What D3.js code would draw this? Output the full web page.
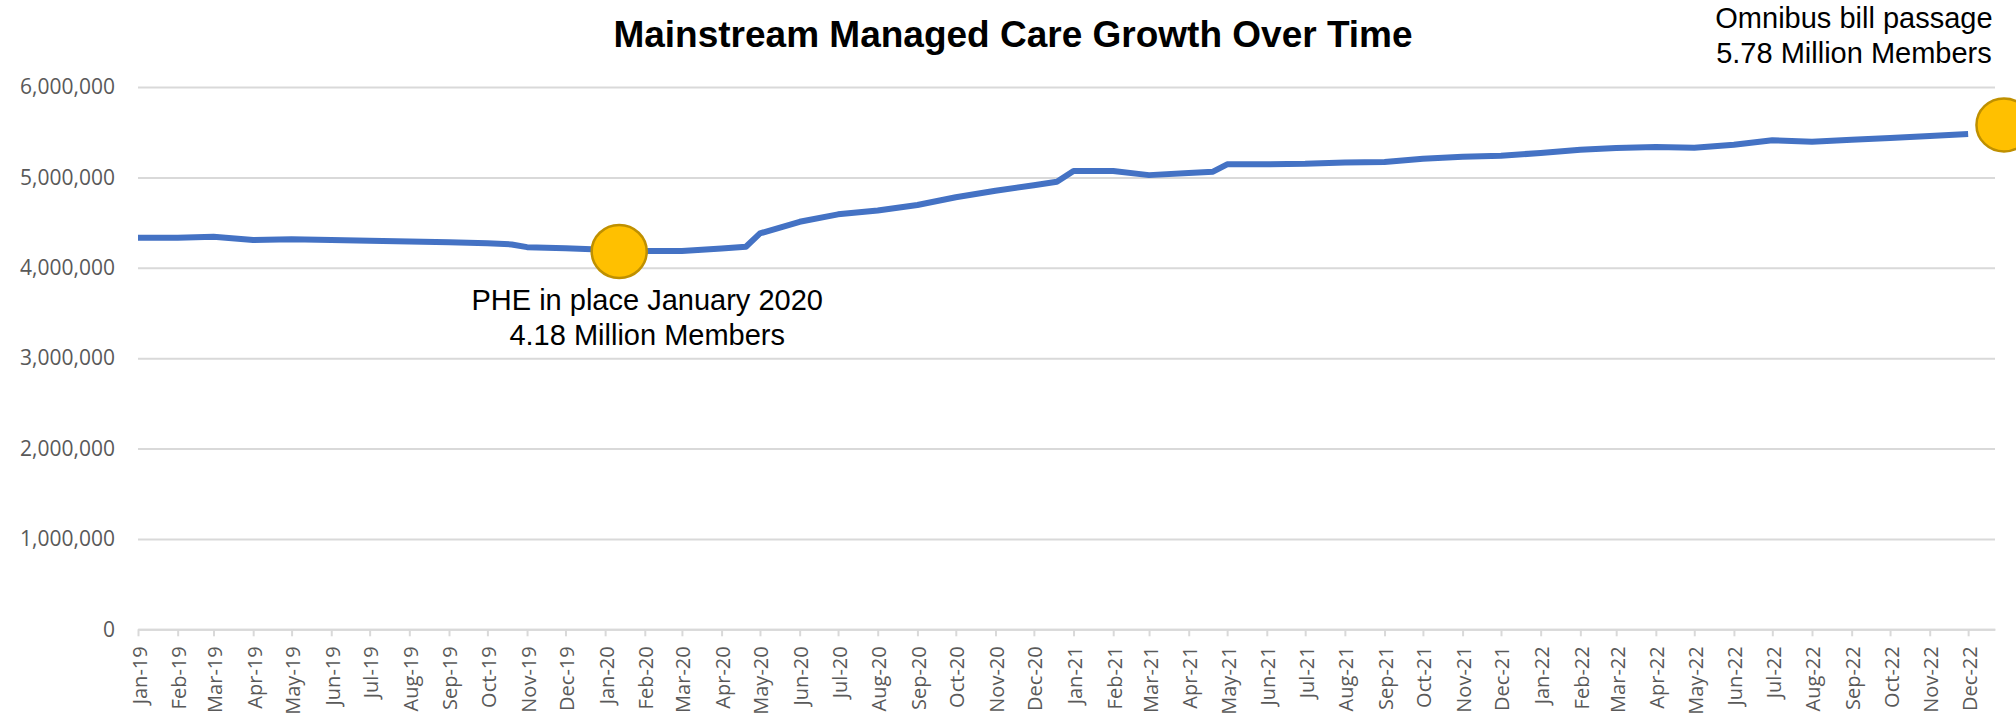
<html>
<head>
  <meta charset="utf-8">
  <title>Mainstream Managed Care Growth Over Time</title>
  <style>
    body {
      margin: 0;
      padding: 0;
      background: #ffffff;
    }
    .title {
      font-family: "Liberation Sans", Arial, sans-serif;
      font-weight: bold;
      font-size: 37px;
      fill: #000000;
    }
    .note {
      font-family: "Liberation Sans", Arial, sans-serif;
      font-size: 29px;
      fill: #000000;
    }
    .axis text {
      font-family: "Open Sans", sans-serif;
      fill: #595959;
    }
    .grid line, .xaxis line, .xaxis path {
      stroke: #d9d9d9;
      stroke-width: 2px;
    }
  </style>
</head>
<body>
  <div id="chart"></div>

  <script src="https://cdn.jsdelivr.net/npm/d3@7"></script>
  <script>
    // monthly enrollment (a few months have an extra mid-month reading)
    var dates = [
      "2019-01-01", "2019-02-01", "2019-03-01", "2019-04-01", "2019-05-01", "2019-06-01",
      "2019-07-01", "2019-08-01", "2019-09-01", "2019-10-01", "2019-10-20", "2019-11-01",
      "2019-12-01", "2020-01-01", "2020-02-01", "2020-03-01", "2020-04-01", "2020-04-20",
      "2020-05-01", "2020-06-01", "2020-07-01", "2020-08-01", "2020-09-01", "2020-10-01",
      "2020-11-01", "2020-12-01", "2020-12-19", "2021-01-01", "2021-02-01", "2021-03-01",
      "2021-04-01", "2021-04-20", "2021-05-01", "2021-06-01", "2021-07-01", "2021-08-01",
      "2021-09-01", "2021-10-01", "2021-11-01", "2021-12-01", "2022-01-01", "2022-02-01",
      "2022-03-01", "2022-04-01", "2022-05-01", "2022-06-01", "2022-07-01", "2022-08-01",
      "2022-09-01", "2022-10-01", "2022-11-01", "2022-12-01"
    ];
    var members = [
      4332000, 4332000, 4343000, 4306000, 4315000, 4308000,
      4298000, 4290000, 4282000, 4272000, 4258000, 4228000,
      4216000, 4200000, 4185000, 4185000, 4212000, 4232000,
      4380000, 4509000, 4591000, 4633000, 4694000, 4780000,
      4853000, 4914000, 4951000, 5070000, 5070000, 5025000,
      5048000, 5063000, 5144000, 5144000, 5150000, 5166000,
      5170000, 5205000, 5228000, 5240000, 5270000, 5305000,
      5326000, 5336000, 5327000, 5360000, 5411000, 5395000,
      5416000, 5436000, 5458000, 5480000
    ];
    var yTicks = [0, 1000000, 2000000, 3000000, 4000000, 5000000, 6000000];
    var axisStart = "2019-01-01",
      axisEnd = "2022-12-22";

    // callout markers
    var phe = { date: "2020-01-12", value: 4180000, text: ["PHE in place January 2020", "4.18 Million Members"] };
    var omnibus = { date: "2022-12-29", value: 5580000, text: ["Omnibus bill passage", "5.78 Million Members"] };

    var width = 2016,
      height = 718;
    // plot box (window.top is read-only, so no plain "top" here)
    var plotLeft = 138, plotRight = 1995, plotTop = 87, plotBottom = 629.3;

    var parse = d3.timeParse("%Y-%m-%d");
    var data = dates.map(function(d, i) {
      return { date: parse(d), value: members[i] };
    });

    var svg = d3.select("#chart")
      .append("svg")
      .attr("width", width)
      .attr("height", height);

    var x = d3.scaleTime()
      .domain([parse(axisStart), parse(axisEnd)])
      .range([plotLeft, plotRight]);
    var y = d3.scaleLinear()
      .domain([0, 6000000])
      .range([plotBottom, plotTop]);

    // gridlines + y labels
    svg.append("g")
      .attr("class", "axis grid")
      .attr("transform", "translate(" + plotLeft + ",0)")
      .call(d3.axisLeft(y)
        .tickValues(yTicks)
        .tickSize(-(plotRight - plotLeft))
        .tickPadding(23)
        .tickFormat(d3.format(",")))
      .call(function(g) { g.select(".domain").remove(); })
      .selectAll("text")
      .style("font-size", "21px");

    // month axis
    var months = d3.timeMonth.range(parse("2019-01-01"), parse("2023-01-01"));
    var xAxis = svg.append("g")
      .attr("class", "axis xaxis")
      .attr("transform", "translate(0," + plotBottom + ")")
      .call(d3.axisBottom(x)
        .tickValues(months)
        .tickSize(7)
        .tickSizeOuter(0)
        .tickFormat(d3.timeFormat("%b-%y")));
    xAxis.selectAll("text")
      .style("font-size", "20px")
      .attr("transform", "rotate(-90)")
      .attr("text-anchor", "end")
      .attr("x", -17)
      .attr("y", 1)
      .attr("dy", "0.35em");

    // enrollment line
    var line = d3.line()
      .x(function(d) { return x(d.date); })
      .y(function(d) { return y(d.value); });

    svg.append("path")
      .datum(data)
      .attr("d", line)
      .attr("fill", "none")
      .attr("stroke", "#4472C4")
      .attr("stroke-width", 6)
      .attr("stroke-linejoin", "round");

    // yellow markers
    [phe, omnibus].forEach(function(n) {
      svg.append("ellipse")
        .attr("cx", x(parse(n.date)))
        .attr("cy", y(n.value))
        .attr("rx", 27.5)
        .attr("ry", 26.5)
        .attr("fill", "#FFC000")
        .attr("stroke", "#BF9000")
        .attr("stroke-width", 2.5);
    });

    // callout text
    var px = x(parse(phe.date)) + 28,
      py = y(phe.value);
    svg.append("text")
      .attr("class", "note")
      .attr("text-anchor", "middle")
      .selectAll("tspan")
      .data(phe.text)
      .enter()
      .append("tspan")
      .attr("x", px)
      .attr("y", function(d, i) { return py + 59 + i * 35; })
      .text(function(d) { return d; });

    var ox = x(parse(omnibus.date)) - 150,
      oy = y(omnibus.value);
    svg.append("text")
      .attr("class", "note")
      .attr("text-anchor", "middle")
      .selectAll("tspan")
      .data(omnibus.text)
      .enter()
      .append("tspan")
      .attr("x", ox)
      .attr("y", function(d, i) { return oy - 97 + i * 35; })
      .text(function(d) { return d; });

    svg.append("text")
      .attr("class", "title")
      .attr("x", 1013)
      .attr("y", 47)
      .attr("text-anchor", "middle")
      .text("Mainstream Managed Care Growth Over Time");
  </script>
</body>
</html>
